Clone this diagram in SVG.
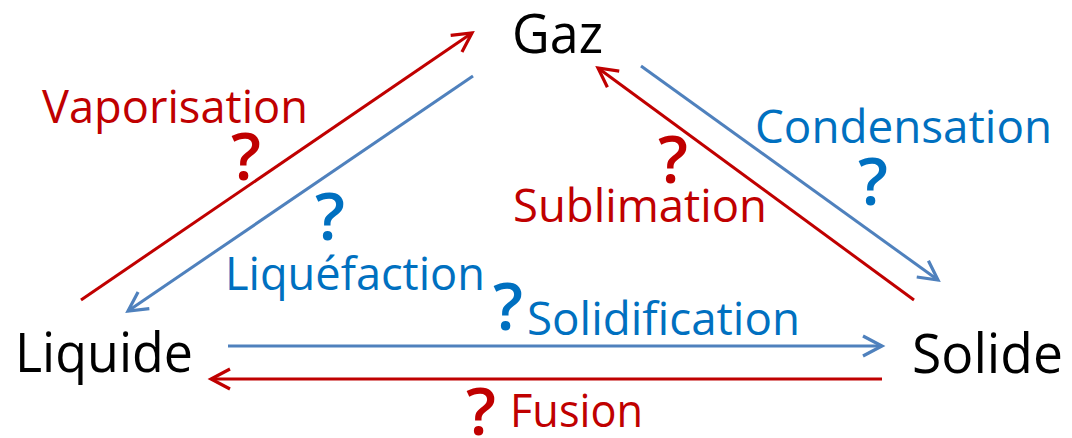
<svg xmlns="http://www.w3.org/2000/svg" width="1072" height="438" viewBox="0 0 1072 438">
  <style>
    .node { font-family: "Open Sans", "Noto Sans", sans-serif; font-size: 55px; fill: #000000; }
    .lbl { font-family: "Open Sans", "Noto Sans", sans-serif; font-size: 45px; }
    .q { font-family: "Open Sans", "Noto Sans", sans-serif; font-size: 66px; font-weight: 600; text-anchor: middle; }
    .red { fill: #C00000; }
    .blue { fill: #0070C0; }
    .lr { stroke: #C00000; stroke-width: 3; fill: none; marker-end: url(#ahR); }
    .lb { stroke: #4F81BD; stroke-width: 3; fill: none; marker-end: url(#ahB); }
  </style>
  <defs>
    <marker id="ahR" markerUnits="userSpaceOnUse" markerWidth="40" markerHeight="40" viewBox="-30 -20 40 40" refX="0" refY="0" orient="auto" overflow="visible">
      <path d="M-19,-10 L0,0 L-19,10" fill="none" stroke="#C00000" stroke-width="3.2"/>
    </marker>
    <marker id="ahB" markerUnits="userSpaceOnUse" markerWidth="40" markerHeight="40" viewBox="-30 -20 40 40" refX="0" refY="0" orient="auto" overflow="visible">
      <path d="M-19,-10 L0,0 L-19,10" fill="none" stroke="#4F81BD" stroke-width="3.2"/>
    </marker>
  </defs>
  <rect x="0" y="0" width="1072" height="438" fill="#FFFFFF"/>

  <g id="node-gaz">
    <text class="node" x="512" y="53" textLength="91" lengthAdjust="spacingAndGlyphs">Gaz</text>
  </g>
  <g id="node-liquide">
    <text class="node" x="15" y="372" textLength="178" lengthAdjust="spacingAndGlyphs">Liquide</text>
  </g>
  <g id="node-solide">
    <text class="node" x="912" y="373" textLength="151" lengthAdjust="spacingAndGlyphs">Solide</text>
  </g>

  <g id="connectors">
    <line id="vaporisation" class="lr" x1="81" y1="300" x2="472" y2="33"/>
    <line id="liquefaction" class="lb" x1="473" y1="76" x2="128" y2="311"/>
    <line id="sublimation" class="lr" x1="914" y1="300" x2="598" y2="68"/>
    <line id="condensation" class="lb" x1="641" y1="66" x2="938" y2="280"/>
    <line id="solidification" class="lb" x1="228" y1="346" x2="882" y2="346"/>
    <line id="fusion" class="lr" x1="882" y1="379" x2="211" y2="379"/>
  </g>

  <g id="labels">
    <text class="lbl red" x="42" y="123" textLength="266" lengthAdjust="spacingAndGlyphs">Vaporisation</text>
    <text class="q red" x="246" y="180">?</text>
    <text class="lbl red" x="513" y="222" textLength="254" lengthAdjust="spacingAndGlyphs">Sublimation</text>
    <text class="q red" x="673" y="183">?</text>
    <text class="lbl blue" x="755" y="143" textLength="297" lengthAdjust="spacingAndGlyphs">Condensation</text>
    <text class="q blue" x="873" y="205">?</text>
    <text class="lbl blue" x="225" y="290" textLength="260" lengthAdjust="spacingAndGlyphs">Liquéfaction</text>
    <text class="q blue" x="330" y="240">?</text>
    <text class="q blue" x="508" y="330">?</text>
    <text class="lbl blue" x="527" y="335" textLength="273" lengthAdjust="spacingAndGlyphs">Solidification</text>
    <text class="q red" x="481" y="435">?</text>
    <text class="lbl red" x="510" y="427" textLength="133" lengthAdjust="spacingAndGlyphs">Fusion</text>
  </g>
</svg>
